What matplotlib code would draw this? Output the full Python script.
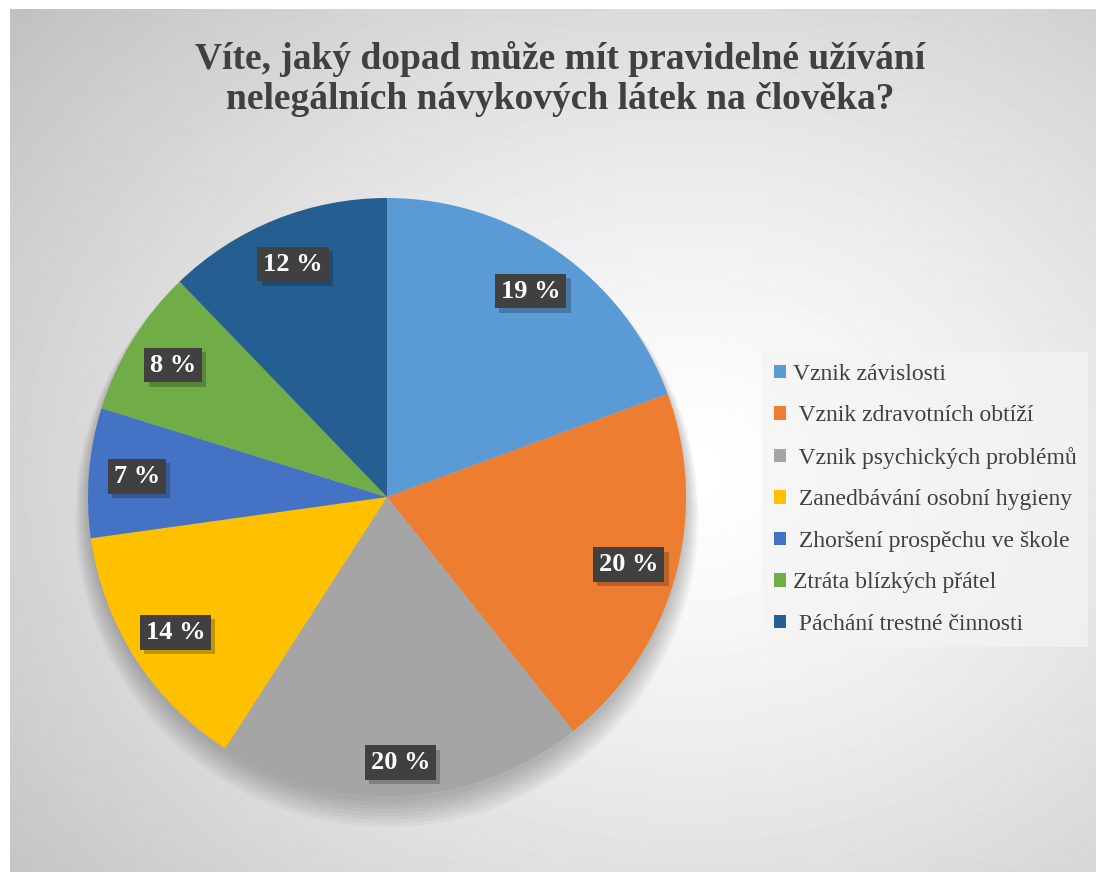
import numpy as np
import matplotlib
matplotlib.use("Agg")
import matplotlib.pyplot as plt
import matplotlib.patheffects as pe

plt.rcParams['font.family'] = ['Liberation Serif', 'DejaVu Serif']

# data (share of answers, %)
categories = ["Vznik závislosti", " Vznik zdravotních obtíží", " Vznik psychických problémů",
              " Zanedbávání osobní hygieny", " Zhoršení prospěchu ve škole",
              "Ztráta blízkých přátel", " Páchání trestné činnosti"]
values = [19.4, 19.9, 19.8, 13.7, 7.0, 8.0, 12.2]
colors = ["#5B9BD5", "#ED7D31", "#A5A5A5", "#FFC000", "#4472C4", "#70AD47", "#255E91"]
title = "Víte, jaký dopad může mít pravidelné užívání\nnelegálních návykových látek na člověka?"

W, H = 1096, 872
fig = plt.figure(figsize=(W / 100, H / 100), dpi=100)

# background with radial gradient
bg = fig.add_axes([10 / W, 0, 1 - 10 / W, 1 - 9 / H])
xx, yy = np.meshgrid(np.arange(10, W), np.arange(9, H))
d = np.sqrt(((xx - 690) / 700.0) ** 2 + ((yy - 470) / 560.0) ** 2)
v = 1 - 0.24 * np.clip(d / 1.25, 0, 1) ** 1.3
bg.imshow(v, cmap='gray', vmin=0, vmax=1, aspect='auto', interpolation='bilinear')
bg.axis('off')

# pie
cx, cy, r = 387, 497, 299
ax = fig.add_axes([(cx - r) / W, (H - cy - r) / H, 2 * r / W, 2 * r / H])

# soft shadow under the pie
for k in range(8):
    ax.add_patch(plt.Circle((0.0, -0.02 - 0.006 * k), 1.0 + 0.006 * k, color='black',
                            alpha=0.03, lw=0, clip_on=False))

wedges, _ = ax.pie(values, colors=colors, startangle=90, counterclock=False, radius=1,
                   wedgeprops=dict(linewidth=0))
ax.set_xlim(-1, 1)
ax.set_ylim(-1, 1)
ax.set_aspect('equal')
ax.axis('off')

total = sum(values)
ang = 90.0
for i, val in enumerate(values):
    mid = np.deg2rad(ang - val / total * 180.0)
    ang -= val / total * 360.0
    dist = 0.89 if i == 2 else 0.84
    x, y = dist * np.cos(mid), dist * np.sin(mid)
    t = ax.text(x, y, "%.0f %%" % val, ha='center', va='center', fontsize=19, fontweight='bold',
                color='white',
                bbox=dict(boxstyle='square,pad=0.22', fc='#404040', ec='none', lw=0))
    t.get_bbox_patch().set_path_effects([pe.SimplePatchShadow(offset=(3, -3), alpha=0.25),
                                         pe.Normal()])

fig.text(560 / W, 1 - 79 / H, title, ha='center', va='center', fontsize=27, fontweight='bold',
         color='#404040', linespacing=1.18)

leg = fig.legend(wedges, categories, loc='upper left', bbox_to_anchor=(762 / W, 1 - 352 / H),
                 fontsize=17, frameon=True, fancybox=False, handlelength=0.5, handleheight=0.5,
                 handletextpad=0.3, labelspacing=0.87, borderpad=0.5, borderaxespad=0)
leg.get_frame().set_facecolor('#f4f4f4')
leg.get_frame().set_alpha(0.7)
leg.get_frame().set_linewidth(0)
for t in leg.get_texts():
    t.set_color('#404040')

fig.savefig('out.png', dpi=100)
